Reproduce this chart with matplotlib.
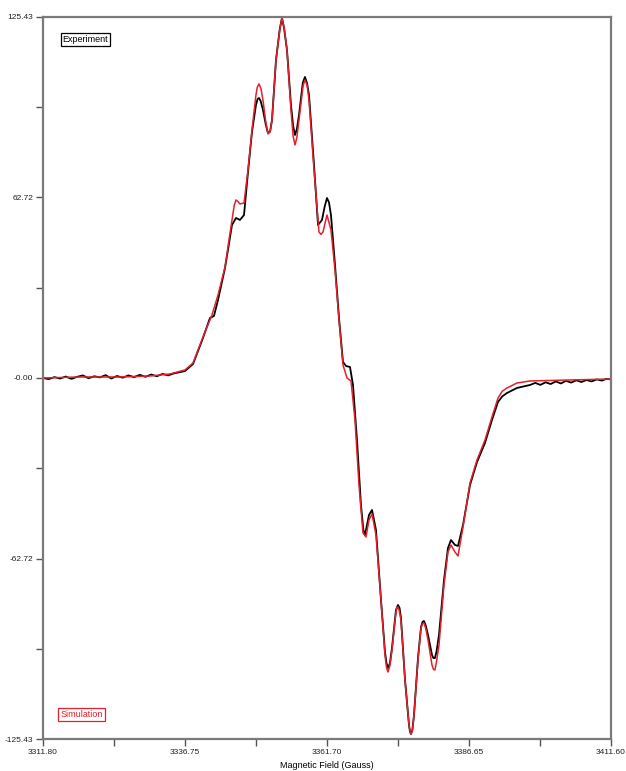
import numpy as np
import matplotlib
import matplotlib.pyplot as plt
from matplotlib.ticker import FixedLocator
matplotlib.use('Agg')

plt.rcParams['font.family'] = ['Liberation Sans', 'DejaVu Sans']

# Experiment (black): field in Gauss, signal in arbitrary units
exp_field = [3311.80, 3312.80, 3313.80, 3314.80, 3315.80, 3316.80, 3317.80, 3318.80,
             3319.80, 3320.80, 3321.80, 3322.80, 3323.80, 3324.80, 3325.80, 3326.80,
             3327.80, 3328.80, 3329.80, 3330.80, 3331.80, 3332.80, 3333.80, 3334.80,
             3335.80, 3336.75, 3338.16, 3339.91, 3341.14, 3341.84, 3342.55, 3343.78,
             3345.01, 3345.71, 3346.41, 3347.12, 3347.82, 3348.52, 3349.22, 3349.50,
             3349.75, 3350.05, 3350.45, 3350.95, 3351.33, 3351.70, 3352.04, 3352.74,
             3353.40, 3353.79, 3354.15, 3354.67, 3355.37, 3355.75, 3356.08, 3356.40,
             3356.78, 3357.45, 3357.83, 3358.20, 3358.54, 3359.42, 3360.12, 3360.82,
             3361.30, 3361.70, 3362.05, 3362.40, 3363.11, 3363.81, 3364.51, 3365.04,
             3365.74, 3366.27, 3366.97, 3367.67, 3368.10, 3368.38, 3368.75, 3369.08,
             3369.61, 3370.31, 3371.19, 3371.89, 3372.15, 3372.42, 3372.75, 3373.12,
             3373.82, 3374.17, 3374.45, 3374.70, 3375.41, 3376.11, 3376.28, 3376.46,
             3376.70, 3376.99, 3377.69, 3378.22, 3378.50, 3378.74, 3379.05, 3379.45,
             3380.15, 3380.40, 3380.67, 3380.95, 3381.38, 3382.26, 3382.96, 3383.49,
             3384.19, 3384.72, 3385.60, 3386.83, 3388.06, 3389.46, 3390.69, 3391.75,
             3392.50, 3393.33, 3395.08, 3397.37, 3398.30, 3399.20, 3400.10, 3401.00,
             3401.90, 3402.80, 3403.70, 3404.60, 3405.50, 3406.40, 3407.30, 3408.20,
             3409.10, 3410.00, 3410.80, 3411.60]
exp_signal = [0.0, -0.4, 0.3, -0.2, 0.5, -0.3, 0.4, 0.9,
              -0.1, 0.6, 0.2, 1.0, -0.2, 0.7, 0.1, 0.9,
              0.3, 1.1, 0.4, 1.2, 0.6, 1.4, 0.9, 1.6,
              2.0, 2.43, 4.86, 13.90, 20.85, 21.54, 27.10, 38.22,
              53.16, 55.59, 54.90, 56.63, 71.57, 85.47, 94.85, 96.9,
              97.29, 96.2, 93.12, 88.0, 85.13, 85.6, 89.64, 110.49,
              121.2, 125.08, 121.6, 113.96, 94.85, 87.6, 84.43, 86.4,
              91.37, 102.6, 104.58, 102.4, 98.33, 74.01, 53.16, 54.90,
              59.6, 62.54, 61.0, 56.63, 39.26, 20.85, 5.56, 4.17,
              3.82, -2.43, -21.54, -44.13, -52.8, -54.55, -50.9, -47.60,
              -45.86, -52.81, -77.13, -95.20, -99.0, -100.76, -99.2, -93.81,
              -80.61, -78.87, -79.9, -83.39, -104.93, -120.57, -122.9, -123.69,
              -122.3, -117.09, -97.29, -86.52, -84.7, -84.43, -86.0, -89.29,
              -96.24, -97.3, -97.29, -95.0, -89.29, -70.18, -59.07, -56.29,
              -58.02, -58.37, -51.08, -37.18, -29.19, -22.58, -14.59, -8.34,
              -6.4, -5.21, -3.47, -2.43, -1.7, -2.4, -1.5, -2.1,
              -1.2, -1.9, -1.0, -1.6, -0.8, -1.4, -0.7, -1.2,
              -0.5, -0.9, -0.3, -0.5]

# Simulation (red)
sim_field = [3311.80, 3318.30, 3325.33, 3330.60, 3334.11, 3336.75, 3338.16, 3339.91,
             3341.49, 3342.55, 3343.78, 3345.01, 3345.40, 3345.71, 3346.05, 3346.41,
             3347.12, 3347.82, 3348.52, 3349.22, 3349.45, 3349.75, 3350.10, 3350.45,
             3350.90, 3351.33, 3351.70, 3352.04, 3352.74, 3353.40, 3353.79, 3354.20,
             3354.67, 3355.37, 3355.75, 3356.08, 3356.40, 3356.78, 3357.50, 3357.83,
             3358.20, 3358.54, 3359.42, 3360.29, 3360.65, 3361.00, 3361.70, 3362.40,
             3363.11, 3363.81, 3364.51, 3365.22, 3365.92, 3366.62, 3367.32, 3368.03,
             3368.55, 3369.08, 3369.61, 3370.31, 3371.19, 3371.89, 3372.15, 3372.42,
             3372.75, 3373.12, 3373.82, 3373.98, 3374.17, 3374.40, 3374.70, 3375.41,
             3376.11, 3376.28, 3376.46, 3376.70, 3376.99, 3377.69, 3378.22, 3378.50,
             3378.74, 3379.05, 3379.45, 3380.15, 3380.40, 3380.67, 3380.95, 3381.38,
             3382.26, 3382.96, 3383.49, 3384.19, 3384.72, 3385.60, 3386.83, 3388.06,
             3389.46, 3390.69, 3391.75, 3392.50, 3393.33, 3395.08, 3397.37, 3404.40,
             3411.60]
sim_signal = [0.0, 0.35, 0.35, 0.69, 1.39, 2.78, 5.21, 14.25,
              21.89, 28.84, 38.57, 54.90, 60.0, 61.85, 61.3, 60.46,
              60.80, 72.27, 86.17, 98.33, 101.0, 102.15, 100.5, 96.59,
              89.5, 84.78, 85.5, 89.64, 110.49, 121.0, 125.08, 121.5,
              113.96, 93.12, 84.0, 80.96, 83.5, 89.64, 101.5, 103.54,
              101.8, 96.59, 72.27, 50.73, 49.9, 50.73, 56.63, 51.42,
              37.52, 20.15, 4.52, 0.0, -1.04, -14.59, -37.18, -53.85,
              -55.24, -49.34, -47.25, -54.55, -77.13, -96.24, -100.5, -102.15,
              -100.0, -94.50, -81.30, -79.8, -79.57, -80.8, -84.08, -104.93,
              -120.57, -122.8, -123.69, -122.5, -117.09, -97.98, -86.86, -85.3,
              -85.13, -87.0, -91.03, -99.72, -101.2, -101.46, -98.5, -92.77,
              -71.92, -60.46, -58.02, -60.46, -61.85, -51.77, -36.48, -28.49,
              -21.54, -13.55, -6.95, -4.6, -3.47, -1.74, -1.04, -0.69,
              -0.35]

x_ticks = [3311.80, 3336.75, 3361.70, 3386.65, 3411.60]
x_labels = ['3311.80', '3336.75', '3361.70', '3386.65', '3411.60']
y_ticks = [-125.43, -62.72, 0.0, 62.72, 125.43]
y_labels = ['-125.43', '-62.72', '-0.00', '62.72', '125.43']

fig = plt.figure(figsize=(6.26, 7.71), dpi=100)
ax = fig.add_axes([0.0687, 0.0415, 0.9073, 0.9365])

ax.plot(exp_field, exp_signal, color='black', linewidth=1.3)
ax.plot(sim_field, sim_signal, color='#e3202b', linewidth=1.1)

ax.set_xlim(3311.80, 3411.60)
ax.set_ylim(-125.43, 125.43)

ax.set_xticks(x_ticks)
ax.set_xticklabels(x_labels)
ax.set_yticks(y_ticks)
ax.set_yticklabels(y_labels)
ax.xaxis.set_minor_locator(FixedLocator([3324.275, 3349.225, 3374.175, 3399.125]))
ax.yaxis.set_minor_locator(FixedLocator([-94.075, 31.36, -31.36, 94.075]))
ax.tick_params(which='both', direction='out', colors='#555555', labelcolor='#222222',
               labelsize=6, width=1.0)
ax.tick_params(which='major', length=5, pad=2)
ax.tick_params(which='minor', length=5)

for side in ['left', 'bottom', 'top', 'right']:
    ax.spines[side].set_color('#7a7a7a')
    ax.spines[side].set_linewidth(1.6)

ax.set_xlabel('Magnetic Field (Gauss)', fontsize=6.5, labelpad=4)

ax.text(0.034, 0.975, 'Experiment', transform=ax.transAxes, fontsize=6.5,
        color='black', va='top', ha='left',
        bbox=dict(boxstyle='square,pad=0.2', facecolor='white', edgecolor='black', linewidth=0.9))
ax.text(0.031, 0.04, 'Simulation', transform=ax.transAxes, fontsize=6.5,
        color='#e3202b', va='top', ha='left',
        bbox=dict(boxstyle='square,pad=0.25', facecolor='white', edgecolor='#e3202b', linewidth=0.9))

plt.savefig('out.png', dpi=100)
